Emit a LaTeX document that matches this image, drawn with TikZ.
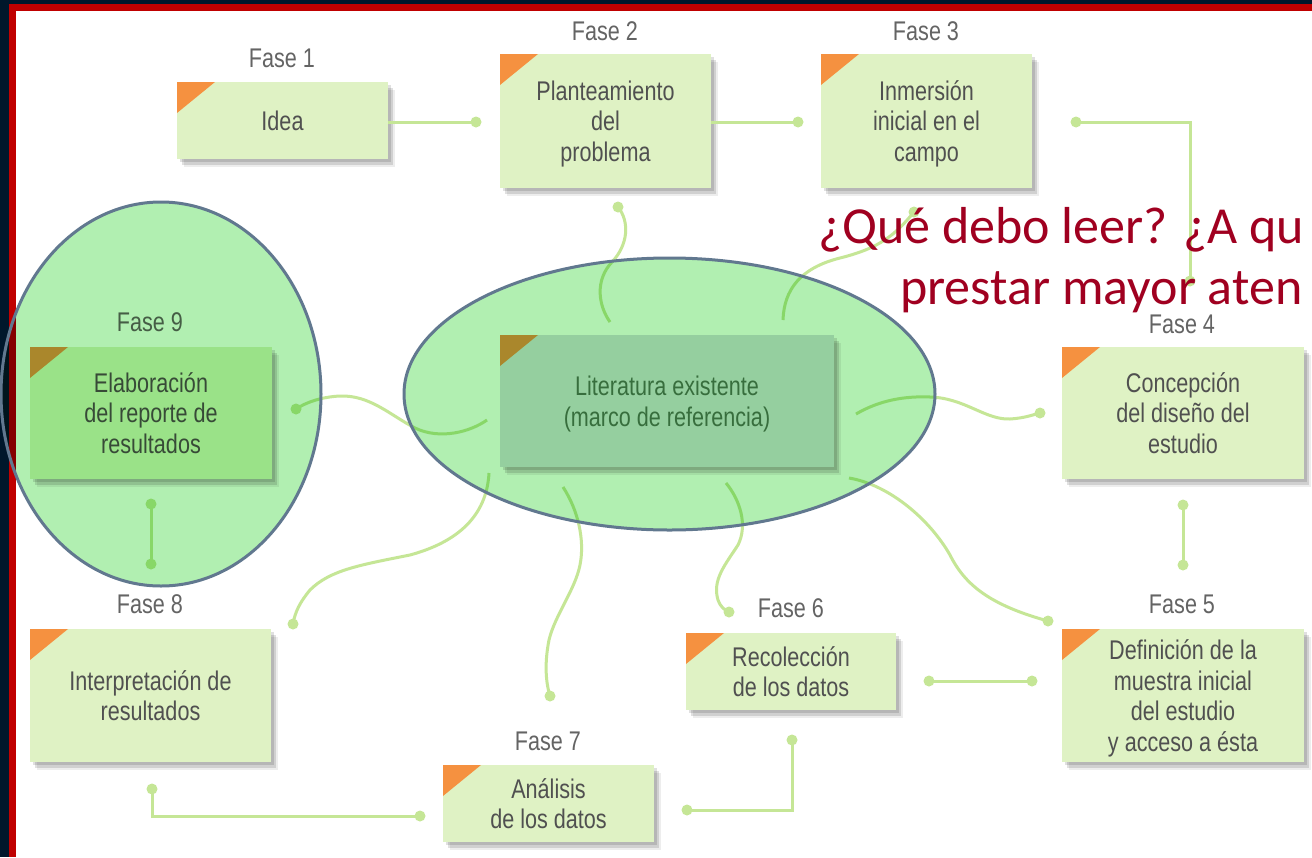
\documentclass[tikz,border=0pt]{standalone}
\usepackage{fontspec}
\setmainfont{Liberation Sans}[FakeStretch=0.8]
\newfontfamily\titlefont{Carlito}
\usetikzlibrary{shadows}
\definecolor{navy}{RGB}{0,23,43}
\definecolor{framered}{RGB}{192,0,0}
\definecolor{boxfill}{RGB}{223,242,196}
\definecolor{cornercol}{RGB}{245,145,64}
\definecolor{conncol}{RGB}{197,230,150}
\definecolor{txtcol}{RGB}{80,80,80}
\definecolor{lblcol}{RGB}{100,100,100}
\definecolor{titlecol}{RGB}{160,0,32}
\definecolor{ellfill}{RGB}{177,239,177}
\definecolor{ellline}{RGB}{97,120,143}
\definecolor{litfill}{RGB}{216,221,230}
\definecolor{littxt}{RGB}{80,118,88}
\tikzset{
  phase/.style={rectangle, fill=boxfill, inner sep=0pt, align=center, text=txtcol,
    font=\fontsize{27}{30.5}\selectfont, text depth=0pt,
    drop shadow={shadow xshift=2.5pt, shadow yshift=-3pt, opacity=0.12, fill=black},
    drop shadow={shadow xshift=4.5pt, shadow yshift=-5.5pt, opacity=0.12, fill=black},
    drop shadow={shadow xshift=6.5pt, shadow yshift=-8pt, opacity=0.07, fill=black},
    path picture={\fill[cornercol] (path picture bounding box.north west) -- ++(38pt,0pt)
      -- ([yshift=-31pt]path picture bounding box.north west) -- cycle;}},
  phaselbl/.style={text=lblcol, font=\fontsize{27}{30.5}\selectfont, inner sep=0pt},
  dot/.style={circle, fill=conncol, inner sep=0pt, minimum size=11pt},
  conn/.style={draw=conncol, line width=3pt},
  hilite/.style={line width=3pt, draw=ellline}
}
\begin{document}
\begin{tikzpicture}[x=1pt,y=-1pt]
\useasboundingbox (0,0) rectangle (1312,857);
% frame
\fill[navy] (0,0) rectangle (1312,857);
\fill[framered] (9,4) rectangle (1312,857);
\fill[white] (16,10.5) rectangle (1312,857);

% dots
\node[dot] (d1) at (476,122) {};
\node[dot] (d2) at (798,122) {};
\node[dot] (d3a) at (1076,122) {};
\node[dot] (d3b) at (1190,281) {};
\node[dot] (d4) at (1183,505) {};
\node[dot] (d5a) at (1183,565) {};
\node[dot] (d5b) at (1032,681) {};
\node[dot] (d6a) at (929,681) {};
\node[dot] (d6b) at (792,740) {};
\node[dot] (d7a) at (687,810) {};
\node[dot] (d7b) at (420,816) {};
\node[dot] (d8a) at (152,789) {};
\node[dot] (d8b) at (151,564) {};
\node[dot] (d9) at (151,504) {};
\node[dot] (c2) at (618,207) {};
\node[dot] (c3) at (914,212) {};
\node[dot] (c4) at (1040,413) {};
\node[dot] (c5) at (1048,621) {};
\node[dot] (c6) at (729,612) {};
\node[dot] (c7) at (550,696) {};
\node[dot] (c8) at (293,624) {};
\node[dot] (c9) at (296,409) {};
\coordinate (s2) at (610,322);
\coordinate (s3) at (783,320);
\coordinate (s4) at (856,414);
\coordinate (s5) at (849,478);
\coordinate (s6) at (726,483);
\coordinate (s7) at (563,487);
\coordinate (s8) at (489,473);
\coordinate (s9) at (487,420);

% boxes
\node[phase, minimum width=211pt, minimum height=77pt] (b1) at (282.5,120.5) {Idea};
\node[phase, minimum width=211pt, minimum height=134pt] (b2) at (605.5,121) {Planteamiento\\del\\problema};
\node[phase, minimum width=211pt, minimum height=134pt] (b3) at (926.5,121) {Inmersión\\inicial en el\\campo};
\node[phase, minimum width=242pt, minimum height=132pt] (b4) at (1183,413) {Concepción\\del diseño del\\estudio};
\node[phase, minimum width=242pt, minimum height=133pt] (b5) at (1183,695.5) {Definición de la\\muestra inicial\\del estudio\\y acceso a ésta};
\node[phase, minimum width=210pt, minimum height=77pt] (b6) at (791,671.5) {Recolección\\de los datos};
\node[phase, minimum width=211pt, minimum height=77pt] (b7) at (548.5,803.5) {Análisis\\de los datos};
\node[phase, minimum width=241pt, minimum height=133pt] (b8) at (150.5,695.5) {Interpretación de\\resultados};
\node[phase, minimum width=242pt, minimum height=132pt] (b9) at (151,413) {Elaboración\\del reporte de\\resultados};
\node[phase, fill=litfill, text=littxt, minimum width=334pt, minimum height=132pt] (bc) at (667,401) {Literatura existente\\(marco de referencia)};

% labels
\node[phaselbl] (l1) at (282,58) {Fase 1};
\node[phaselbl] (l2) at (605,31) {Fase 2};
\node[phaselbl] (l3) at (926,31) {Fase 3};
\node[phaselbl] (l4) at (1182,324) {Fase 4};
\node[phaselbl] (l5) at (1182,604) {Fase 5};
\node[phaselbl] (l6) at (791,608) {Fase 6};
\node[phaselbl] (l7) at (548,741) {Fase 7};
\node[phaselbl] (l8) at (150,604) {Fase 8};
\node[phaselbl] (l9) at (150,322) {Fase 9};

% straight connectors
\draw[conn] (b1.east |- d1) -- (d1.center);
\draw[conn] (b2.east |- d2) -- (d2.center);
\draw[conn] (d3a.center) -| (d3b.center);
\draw[conn] (d4.center) -- (d5a.center);
\draw[conn] (d5b.center) -- (d6a.center);
\draw[conn] (d6b.center) |- (d7a.center);
\draw[conn] (d7b.center) -| (d8a.center);
\draw[conn] (d8b.center) -- (d9.center);

% curved connectors from the literature
\draw[conn] (c2.center) .. controls (630,222) and (628,245) .. (612,262) .. controls (595,280) and (598,305) .. (s2);
\draw[conn] (s3) .. controls (784,290) and (800,268) .. (840,258) .. controls (880,248) and (895,235) .. (c3.center);
\draw[conn] (s4) .. controls (880,400) and (905,396) .. (930,397) .. controls (965,398) and (985,420) .. (1010,419) .. controls (1025,418) and (1032,415) .. (c4.center);
\draw[conn] (s9) .. controls (470,432) and (440,440) .. (415,428) .. controls (390,415) and (370,395) .. (340,396) .. controls (320,397) and (305,403) .. (c9.center);
\draw[conn] (s8) .. controls (487,510) and (465,540) .. (410,555) .. controls (360,565) and (330,570) .. (310,590) .. controls (300,602) and (295,612) .. (c8.center);
\draw[conn] (s7) .. controls (578,510) and (585,540) .. (580,565) .. controls (575,590) and (555,615) .. (549,640) .. controls (545,660) and (545,680) .. (c7.center);
\draw[conn] (s6) .. controls (740,500) and (748,525) .. (738,545) .. controls (725,565) and (712,580) .. (718,600) .. controls (720,606) and (724,610) .. (c6.center);
\draw[conn] (s5) .. controls (890,485) and (930,520) .. (950,555) .. controls (965,585) and (990,605) .. (c5.center);

% title
\node[anchor=base west, inner sep=0pt, text=titlecol, font=\titlefont\fontsize{52}{64}\selectfont] (t1) at (818,243) {¿Qué debo leer? ¿A qu};
\node[anchor=base west, inner sep=0pt, text=titlecol, font=\titlefont\fontsize{52}{64}\selectfont] (t2) at (900,304) {prestar mayor aten};

% highlight ellipses
\fill[ellfill, blend mode=multiply] (161,394) ellipse [x radius=160pt, y radius=192pt];
\fill[ellfill, blend mode=multiply] (669.5,394) ellipse [x radius=265.5pt, y radius=136pt];
\draw[hilite] (161,394) ellipse [x radius=160pt, y radius=192pt];
\draw[hilite] (669.5,394) ellipse [x radius=265.5pt, y radius=136pt];
\end{tikzpicture}
\end{document}
